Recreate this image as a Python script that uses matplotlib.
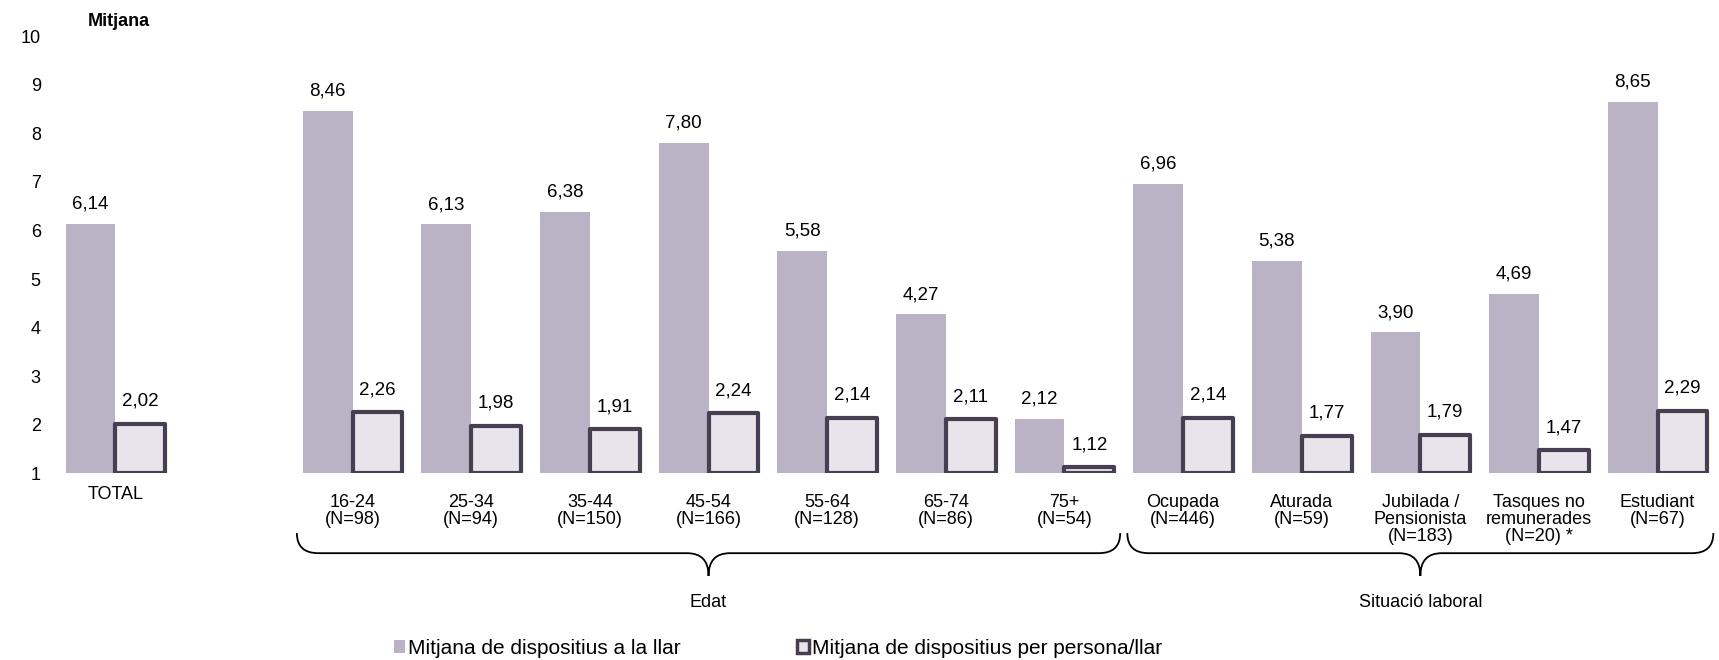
import numpy as np
import matplotlib
matplotlib.use("Agg")
import matplotlib.pyplot as plt
from matplotlib.path import Path
from matplotlib.patches import PathPatch, Patch
from matplotlib.transforms import blended_transform_factory, ScaledTranslation

plt.rcParams['font.family'] = ['Liberation Sans', 'DejaVu Sans']

# dades
categories = ["TOTAL",
              "16-24\n(N=98)", "25-34\n(N=94)", "35-44\n(N=150)", "45-54\n(N=166)",
              "55-64\n(N=128)", "65-74\n(N=86)", "75+\n(N=54)",
              "Ocupada\n(N=446)", "Aturada\n(N=59)", "Jubilada /\nPensionista\n(N=183)",
              "Tasques no\nremunerades\n(N=20) *", "Estudiant\n(N=67)"]
mitjana_llar = [6.14, 8.46, 6.13, 6.38, 7.80, 5.58, 4.27, 2.12, 6.96, 5.38, 3.90, 4.69, 8.65]
mitjana_persona = [2.02, 2.26, 1.98, 1.91, 2.24, 2.14, 2.11, 1.12, 2.14, 1.77, 1.79, 1.47, 2.29]
grups = [("Edat", 1, 7), ("Situació laboral", 8, 12)]  # index primer/ultim

col_llar = '#bab3c5'
col_pers = '#e7e4ec'
col_vora = '#463f51'
base = 1

# TOTAL, un buit, i la resta
pos = np.array([0] + list(range(2, len(categories) + 1)), dtype=float)
w = 0.42

fig = plt.figure(figsize=(17.19, 6.6), dpi=100)
ax = fig.add_axes([0.0326, 0.283, 0.9662, 0.662])

v1 = np.array(mitjana_llar)
v2 = np.array(mitjana_persona)
b1 = ax.bar(pos - w / 2, v1 - base, bottom=base, width=w, color=col_llar, linewidth=0)
b2 = ax.bar(pos + w / 2, v2 - base, bottom=base, width=w, color=col_pers,
            edgecolor=col_vora, linewidth=3, joinstyle='round')

def fmt(v):
    return f"{v:.2f}".replace('.', ',')

for x, v in zip(pos - w / 2, v1):
    ax.annotate(fmt(v), (x, v), xytext=(0, 8), textcoords='offset points',
                ha='center', va='bottom', fontsize=13.5)
for x, v in zip(pos + w / 2, v2):
    ax.annotate(fmt(v), (x, v), xytext=(0, 10), textcoords='offset points',
                ha='center', va='bottom', fontsize=13.5)

ax.set_xlim(-0.5, pos[-1] + 0.5)
ax.set_ylim(base, 10)
ax.set_yticks(range(1, 11))
ax.set_xticks(pos)
ax.set_xticklabels(categories, fontsize=13, linespacing=1.0)
ax.tick_params(axis='y', length=0, pad=11, labelsize=13)
ax.tick_params(axis='x', length=0, pad=15)
for s in ax.spines.values():
    s.set_visible(False)

# TOTAL queda una mica mes amunt
lbl = ax.get_xticklabels()[0]
lbl.set_transform(lbl.get_transform() + ScaledTranslation(0, 6 / 72, fig.dpi_scale_trans))

# claus sota els grups
tr = blended_transform_factory(ax.transData, ax.transAxes)
y_top, y_mid, y_tip = -0.137, -0.183, -0.235
r = 0.18
for nom, i0, i1 in grups:
    x0 = pos[i0] - w - 0.05
    x1 = pos[i1] + w + 0.05
    xm = (x0 + x1) / 2
    verts = [(x0, y_top), (x0, y_mid), (x0 + r, y_mid),
             (xm - r, y_mid), (xm, y_mid), (xm, y_tip),
             (xm, y_mid), (xm + r, y_mid),
             (x1 - r, y_mid), (x1, y_mid), (x1, y_top)]
    codes = [Path.MOVETO, Path.CURVE3, Path.CURVE3,
             Path.LINETO, Path.CURVE3, Path.CURVE3,
             Path.CURVE3, Path.CURVE3,
             Path.LINETO, Path.CURVE3, Path.CURVE3]
    ax.add_patch(PathPatch(Path(verts, codes), transform=tr, fill=False,
                           edgecolor='black', linewidth=1.3, clip_on=False))
    ax.text(xm, -0.297, nom, transform=tr, ha='center', va='center', fontsize=13)

fig.text(119 / 1719, 1 - 22 / 660, "Mitjana", fontsize=13, fontweight='bold',
         ha='center', va='center')

handles = [Patch(facecolor=col_llar, edgecolor='none', label='Mitjana de dispositius a la llar'),
           Patch(facecolor=col_pers, edgecolor=col_vora, linewidth=2.5,
                 label='Mitjana de dispositius per persona/llar')]
fig.legend(handles=handles, loc='center', bbox_to_anchor=(0.4525, 0.018), ncol=2,
           frameon=False, fontsize=15, handlelength=0.55, handleheight=0.55,
           handletextpad=0.15, columnspacing=5.6)

fig.savefig('out.png', dpi=100)
